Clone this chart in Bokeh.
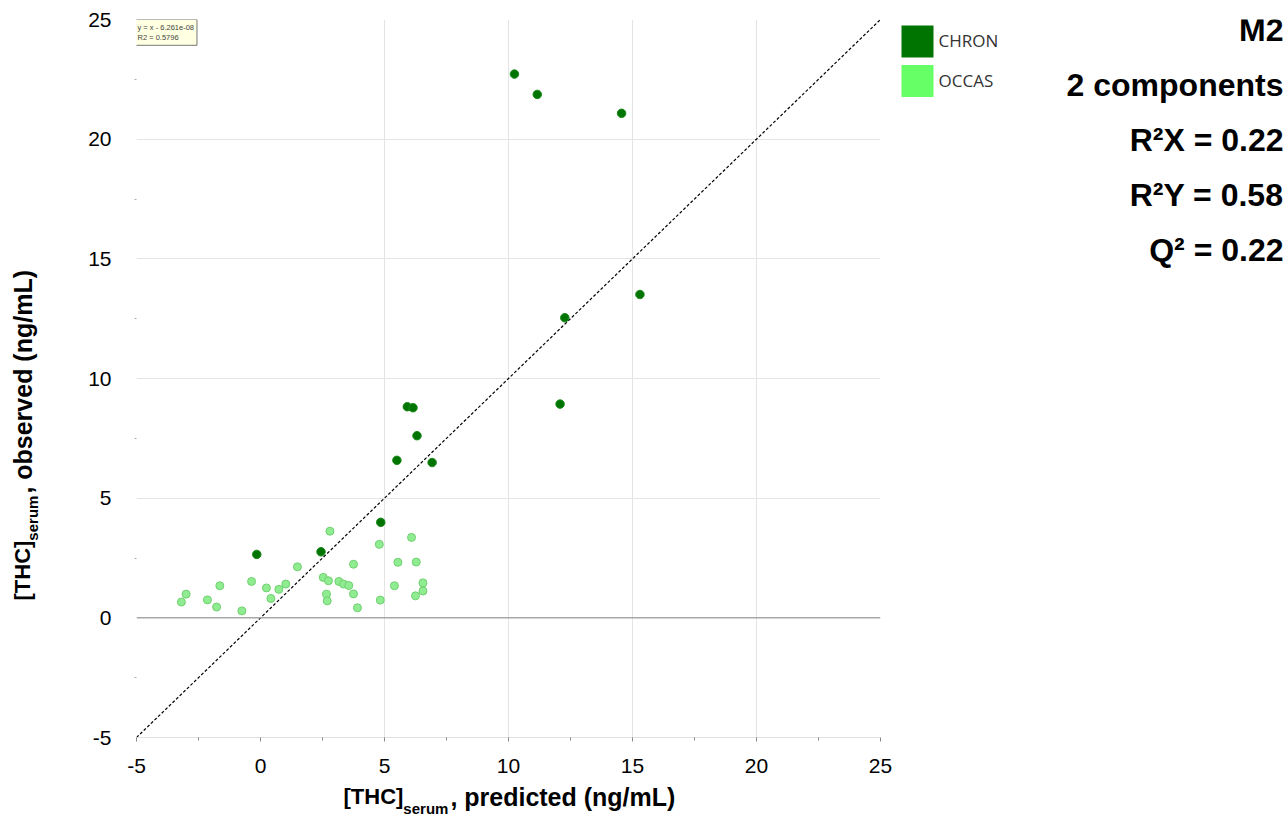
from bokeh.plotting import figure
from bokeh.models import Label, Span, FixedTicker, Range1d
from bokeh.layouts import row, column
from bokeh.core.properties import value
from bokeh.embed import file_html
from bokeh.resources import INLINE
import math

# ---------------- data ----------------
chron_pred = [10.24, 11.16, 14.56, 15.30, 12.27, 12.08, 5.92, 6.15, 6.31, 5.50, 6.92, 4.85, -0.15, 2.44]
chron_obs = [22.72, 21.87, 21.08, 13.51, 12.54, 8.93, 8.82, 8.78, 7.61, 6.58, 6.49, 3.99, 2.65, 2.76]

occas_pred = [2.80, 4.79, 6.09, 1.49, 3.75, 5.54, 6.28, -1.64, -0.36, 0.24, 0.74, 1.02,
              2.53, 2.74, 3.16, 3.35, 3.56, 3.75, 3.91, 5.40, 6.55, 6.55, 6.25, 4.83,
              2.66, 2.69, 0.42, -0.75, -1.77, -2.14, -3.00, -3.19]
occas_obs = [3.62, 3.07, 3.36, 2.13, 2.24, 2.32, 2.33, 1.34, 1.52, 1.25, 1.19, 1.41,
             1.69, 1.55, 1.52, 1.41, 1.35, 1.00, 0.42, 1.34, 1.46, 1.12, 0.92, 0.74,
             0.99, 0.71, 0.81, 0.29, 0.45, 0.75, 0.99, 0.66]

reg_slope = 1.0
reg_intercept = -6.261e-08
reg_x = [-5, 25]
reg_y = [reg_slope * v + reg_intercept for v in reg_x]

tick_values = [-5, 0, 5, 10, 15, 20, 25]
tick_labels = ["-5", "0", "5", "10", "15", "20", "25"]
minor_values = [-2.5, 2.5, 7.5, 12.5, 17.5, 22.5]
xgrid_values = [5, 10, 15, 20]
ygrid_values = [-5, 5, 10, 15, 20]

group_names = ["CHRON", "OCCAS"]
group_colors = ["#007400", "#66ff66"]
stats_lines = ["M2", "2 components", "R\u00b2X = 0.22", "R\u00b2Y = 0.58", "Q\u00b2 = 0.22"]
eq_text = "y = x - 6.261e-08\nR2 = 0.5796"
xlabel_parts = ["[THC]", "serum", ", predicted (ng/mL)"]
ylabel_parts = ["[THC]", "serum", ", observed (ng/mL)"]

# ---------------- layout constants (page px) ----------------
PAGE_W, PAGE_H = 1288, 821
YL_W = 60
MAIN_W, MAIN_H = 840, 780
FRAME_L, FRAME_R, FRAME_T, FRAME_B = 136, 880, 19, 737
SIDE_X0 = YL_W + MAIN_W
SIDE_W = PAGE_W - SIDE_X0
XL_H = PAGE_H - MAIN_H

BOLD = value("Liberation Sans")

# Arial / Liberation Sans Bold advance widths (per 1000 em)
AB = {'[': 333, 'T': 611, 'H': 722, 'C': 722, ']': 333, 's': 556, 'e': 556, 'r': 389, 'u': 611, 'm': 889}

def tw(s, size):
    return sum(AB[c] for c in s) * size / 1000.0

HEAD_FS, SUB_FS, REST_FS = 22, 15, 25
w_main = tw(xlabel_parts[0], HEAD_FS)
w_sub = tw(xlabel_parts[1], SUB_FS) + 2

# ---------------- main plot ----------------
p = figure(width=MAIN_W, height=MAIN_H, x_range=(-5, 25), y_range=(-5, 25),
           output_backend="svg", toolbar_location=None,
           min_border_left=FRAME_L - YL_W, min_border_right=SIDE_X0 - FRAME_R,
           min_border_top=FRAME_T, min_border_bottom=MAIN_H - FRAME_B)
p.outline_line_color = None

overrides = {t: l for t, l in zip(tick_values, tick_labels)}
for ax in (p.xaxis[0], p.yaxis[0]):
    ax.ticker = FixedTicker(ticks=tick_values, minor_ticks=minor_values)
    ax.major_label_overrides = overrides
    ax.major_label_text_font = "Liberation Sans"
    ax.major_label_text_font_size = "21px"
    ax.major_label_text_color = "black"

p.xaxis.axis_line_color = "#e0e0e0"
p.xaxis.major_tick_line_color = "#888888"
p.xaxis.minor_tick_line_color = "#888888"
p.xaxis.major_tick_out = 4
p.xaxis.major_tick_in = 0
p.xaxis.minor_tick_out = 3
p.xaxis.minor_tick_in = 0
p.xaxis.major_label_standoff = 17

p.yaxis.axis_line_color = None
p.yaxis.major_tick_line_color = None
p.yaxis.minor_tick_line_color = "#aaaaaa"
p.yaxis.minor_tick_out = 2
p.yaxis.minor_tick_in = 0
p.yaxis.major_tick_out = 0
p.yaxis.major_tick_in = 0
p.yaxis.major_label_standoff = 23

p.xgrid.ticker = FixedTicker(ticks=xgrid_values)
p.ygrid.ticker = FixedTicker(ticks=ygrid_values)
p.xgrid.grid_line_color = "#e4e4e4"
p.ygrid.grid_line_color = "#e4e4e4"

p.add_layout(Span(location=0, dimension="width", line_color="#a8a8a8", line_width=1.5))

p.line(reg_x, reg_y, line_color="black", line_width=1.2, line_dash="3 2")

p.scatter(occas_pred, occas_obs, size=8, fill_color="#90ec90", line_color="#70d070", line_width=1)
p.scatter(chron_pred, chron_obs, size=8.5, fill_color=group_colors[0], line_color="#1a8a1a", line_width=1)

p.add_layout(Label(x=-5, y=25, text=eq_text, text_font="Liberation Sans", text_font_size="7.5px",
                   text_color="#444444", text_align="left", text_baseline="top",
                   background_fill_color="#ffffe1", border_line_color="#777777",
                   border_line_width=1, padding=3, x_offset=-2))

# blank helper figures: data coordinates are page pixels (x) and PAGE_H - page_y (y)
def blank(w, h, x0, x1, ytop, ybot, bt=0, bb=0):
    f = figure(width=w, height=h, x_range=Range1d(x0, x1),
               y_range=Range1d(PAGE_H - ybot, PAGE_H - ytop),
               output_backend="svg", toolbar_location=None,
               x_axis_location=None, y_axis_location=None,
               min_border_left=0, min_border_right=0,
               min_border_top=bt, min_border_bottom=bb)
    f.outline_line_color = None
    f.xgrid.visible = False
    f.ygrid.visible = False
    return f

def btext(f, x, py, t, fs, angle=0.0):
    f.text(x=[x], y=[PAGE_H - py], text=[t], angle=angle,
           text_font=BOLD, text_font_style="bold", text_font_size=f"{fs}px",
           text_align="left", text_baseline="middle", text_color="black")

# ---------------- y-label strip ----------------
yl = blank(YL_W, MAIN_H, 0, YL_W, FRAME_T, FRAME_B, FRAME_T, MAIN_H - FRAME_B)
cx, start_py = 22, 600
btext(yl, cx, start_py, ylabel_parts[0], HEAD_FS, math.pi / 2)
btext(yl, cx + 10, start_py - w_main, ylabel_parts[1], SUB_FS, math.pi / 2)
btext(yl, cx, start_py - w_main - w_sub, ylabel_parts[2], REST_FS, math.pi / 2)

# ---------------- side panel: legend + stats ----------------
sd = blank(SIDE_W, MAIN_H, SIDE_X0, PAGE_W, FRAME_T, FRAME_B, FRAME_T, MAIN_H - FRAME_B)
sq_tops = [25, 64.5]
sd.quad(left=[901] * 2, right=[933] * 2,
        top=[PAGE_H - t for t in sq_tops], bottom=[PAGE_H - t - 32 for t in sq_tops],
        fill_color=group_colors, line_color=None)
sd.text(x=[938] * 2, y=[PAGE_H - t - 15 for t in sq_tops], text=group_names,
        text_font=value("Open Sans"), text_font_size="17px", text_color="#333333",
        text_align="left", text_baseline="middle")
sd.text(x=[1283] * len(stats_lines), y=[PAGE_H - (29 + 55 * i) for i in range(len(stats_lines))],
        text=stats_lines, text_font=BOLD, text_font_style="bold", text_font_size="32px",
        text_color="black", text_align="right", text_baseline="middle")

# ---------------- x-label strip (full width, page y 780..821) ----------------
xl = blank(PAGE_W, XL_H, 0, PAGE_W, MAIN_H, PAGE_H)
sx, cy = 343, 796
btext(xl, sx, cy, xlabel_parts[0], HEAD_FS)
btext(xl, sx + w_main, cy + 12, xlabel_parts[1], SUB_FS)
btext(xl, sx + w_main + w_sub, cy, xlabel_parts[2], REST_FS)

layout = column(row(yl, p, sd), xl)
open("out.html", "w").write(file_html(layout, INLINE))
